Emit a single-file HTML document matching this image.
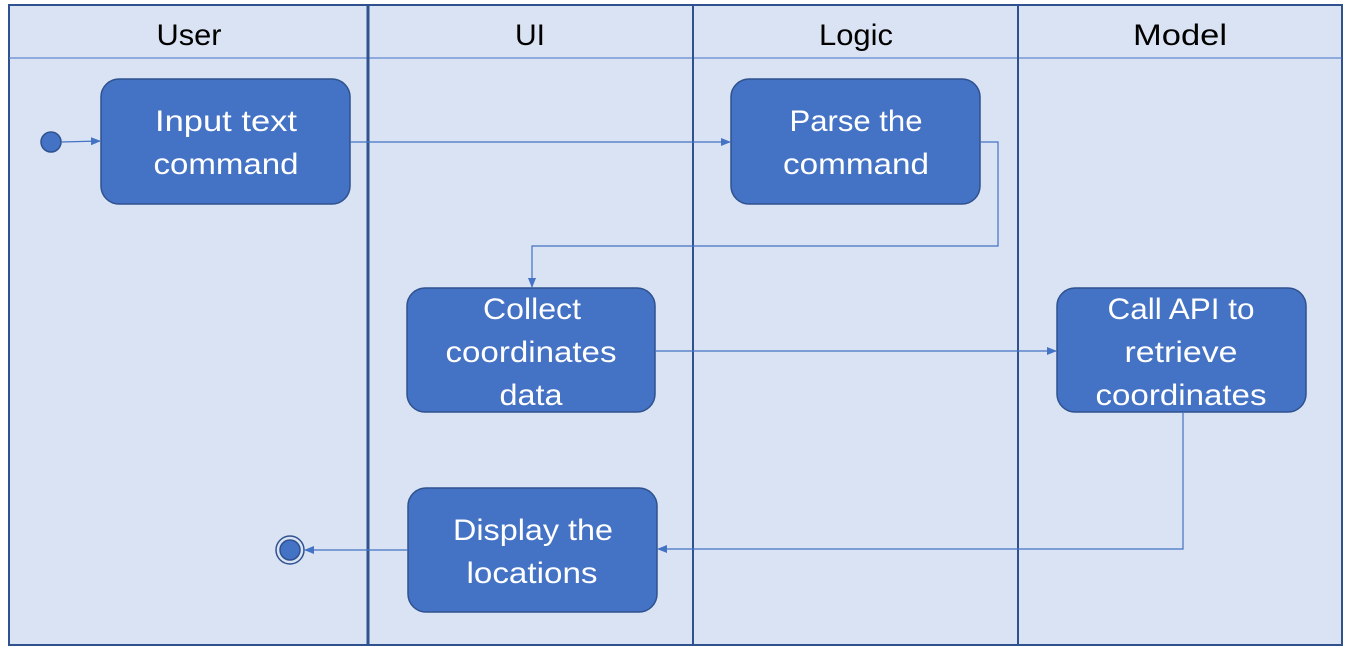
<!DOCTYPE html>
<html><head><meta charset="utf-8"><style>
html,body{margin:0;padding:0;background:#fff;}
svg text{font-family:"Liberation Sans",sans-serif;}
</style></head><body>
<svg width="1350" height="660" viewBox="0 0 1350 660" xmlns="http://www.w3.org/2000/svg">
<defs>
<marker id="a" markerWidth="10" markerHeight="10" refX="9" refY="5" orient="auto" markerUnits="userSpaceOnUse">
<path d="M0,1 L10,5 L0,9 z" fill="#4472c4"/></marker>
</defs>
<rect x="9" y="5" width="1333" height="640" fill="#dae3f3" stroke="#2f528f" stroke-width="2"/>
<line x1="9" y1="58" x2="1342" y2="58" stroke="#4472c4" stroke-width="1"/>
<line x1="368" y1="5" x2="368" y2="645" stroke="#2f528f" stroke-width="3"/>
<line x1="693" y1="5" x2="693" y2="645" stroke="#2f528f" stroke-width="2"/>
<line x1="1018" y1="5" x2="1018" y2="645" stroke="#2f528f" stroke-width="2"/>
<g font-size="30" fill="#000" text-anchor="middle" lengthAdjust="spacingAndGlyphs">
<text x="189" y="45" textLength="65" lengthAdjust="spacingAndGlyphs">User</text>
<text x="530" y="45">UI</text>
<text x="856" y="45" textLength="74" lengthAdjust="spacingAndGlyphs">Logic</text>
<text x="1180" y="45" textLength="94" lengthAdjust="spacingAndGlyphs">Model</text>
</g>
<g fill="#4472c4" stroke="#2f528f" stroke-width="1.5">
<rect x="101" y="79" width="249" height="125" rx="18"/>
<rect x="731" y="79" width="249" height="125" rx="18"/>
<rect x="407" y="288" width="248" height="124" rx="18"/>
<rect x="1057" y="288" width="249" height="124" rx="18"/>
<rect x="408" y="488" width="249" height="124" rx="18"/>
<circle cx="51" cy="142" r="10"/>
<circle cx="290" cy="550" r="10"/>
</g>
<circle cx="290" cy="550" r="14" fill="none" stroke="#2f528f" stroke-width="1.5"/>
<g stroke="#4472c4" stroke-width="1.2" fill="none">
<line x1="61" y1="142" x2="100" y2="141" marker-end="url(#a)"/>
<line x1="350" y1="142" x2="730" y2="142" marker-end="url(#a)"/>
<polyline points="980,142 998,142 998,246 532,246 532,287" marker-end="url(#a)"/>
<line x1="655" y1="351" x2="1056" y2="351" marker-end="url(#a)"/>
<polyline points="1183,412 1183,549 658,549" marker-end="url(#a)"/>
<line x1="408" y1="550" x2="305" y2="550" marker-end="url(#a)"/>
</g>
<g font-size="30" fill="#fff" text-anchor="middle">
<text x="226" y="131" textLength="142" lengthAdjust="spacingAndGlyphs">Input text</text>
<text x="226" y="174" textLength="145" lengthAdjust="spacingAndGlyphs">command</text>
<text x="856" y="131" textLength="133" lengthAdjust="spacingAndGlyphs">Parse the</text>
<text x="856" y="174" textLength="146" lengthAdjust="spacingAndGlyphs">command</text>
<text x="532" y="319" textLength="98" lengthAdjust="spacingAndGlyphs">Collect</text>
<text x="531" y="362" textLength="171" lengthAdjust="spacingAndGlyphs">coordinates</text>
<text x="531" y="405" textLength="63" lengthAdjust="spacingAndGlyphs">data</text>
<text x="1181" y="319" textLength="147" lengthAdjust="spacingAndGlyphs">Call API to</text>
<text x="1181" y="362" textLength="113" lengthAdjust="spacingAndGlyphs">retrieve</text>
<text x="1181" y="405" textLength="171" lengthAdjust="spacingAndGlyphs">coordinates</text>
<text x="533" y="540" textLength="160" lengthAdjust="spacingAndGlyphs">Display the</text>
<text x="532" y="583" textLength="131" lengthAdjust="spacingAndGlyphs">locations</text>
</g>
</svg>
</body></html>
